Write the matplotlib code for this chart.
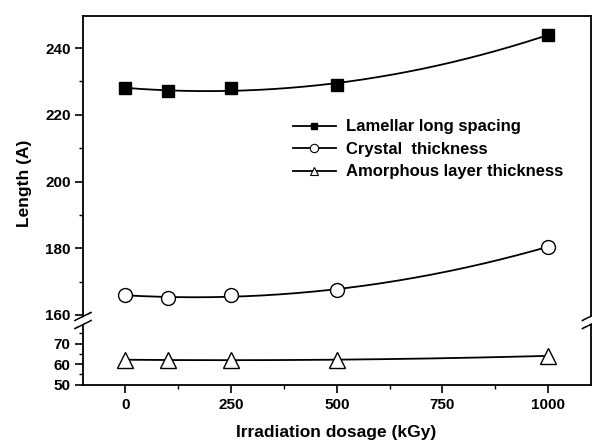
import numpy as np
import matplotlib
matplotlib.use('Agg')
import matplotlib.pyplot as plt
from matplotlib.ticker import MultipleLocator, FixedLocator
from matplotlib.lines import Line2D

plt.rcParams['font.family'] = ['Liberation Sans', 'DejaVu Sans']
plt.rcParams['font.weight'] = 'bold'

dose = [0, 100, 250, 500, 1000]
lamellar = [228, 227, 228, 229, 244]
crystal = [166, 165, 166, 167.5, 180.5]
amorphous = [62, 62, 62, 62, 64]

labels = ['Lamellar long spacing', 'Crystal  thickness', 'Amorphous layer thickness']


def fit_curve(x, y):
	# smooth trend through the points (2nd order fit)
	c = np.polyfit(x, y, 2)
	xs = np.linspace(min(x), max(x), 200)
	return xs, np.polyval(c, xs)


fig = plt.figure(figsize=(5.92, 4.44), dpi=100)
W, H = 592.0, 444.0
x0, x1 = 83 / W, 590.5 / W
ybrk = 322.0
ax1 = fig.add_axes([x0, 1 - ybrk / H, x1 - x0, (ybrk - 16) / H])
ax2 = fig.add_axes([x0, 1 - 384.5 / H, x1 - x0, (384.5 - ybrk) / H], sharex=ax1)

for ax in (ax1, ax2):
	for s in ax.spines.values():
		s.set_linewidth(1.3)
	ax.tick_params(direction='out', width=1.2, labelsize=11)
	ax.tick_params(which='major', length=5.5)
	ax.tick_params(which='minor', length=3, width=1.0)

ax1.spines['bottom'].set_visible(False)
ax2.spines['top'].set_visible(False)
ax1.tick_params(axis='x', which='both', bottom=False, labelbottom=False)

ax1.set_xlim(-100, 1100)
ax1.set_ylim(157.9, 249.6)
ax2.set_ylim(50, 80.5)
ax1.yaxis.set_major_locator(MultipleLocator(20))
ax1.yaxis.set_minor_locator(MultipleLocator(10))
ax2.yaxis.set_major_locator(FixedLocator([50, 60, 70]))
ax2.yaxis.set_minor_locator(FixedLocator([55, 65, 75]))
ax2.xaxis.set_major_locator(MultipleLocator(250))
ax2.xaxis.set_minor_locator(MultipleLocator(125))
ax2.tick_params(axis='x', pad=4)

for lab in ax1.get_yticklabels() + ax2.get_yticklabels() + ax2.get_xticklabels():
	lab.set_fontweight('bold')

# curves
xs, ys = fit_curve(dose, lamellar)
ax1.plot(xs, ys, color='black', lw=1.3)
ax1.plot(dose, lamellar, 's', color='black', ms=8, mfc='black')
xs, ys = fit_curve(dose, crystal)
ax1.plot(xs, ys, color='black', lw=1.3)
ax1.plot(dose, crystal, 'o', color='black', ms=10, mfc='white', mew=1.0)
xs, ys = fit_curve(dose, amorphous)
ax2.plot(xs, ys, color='black', lw=1.3)
ax2.plot(dose, amorphous, '^', color='black', ms=11, mfc='white', mew=1.0)

# legend
handles = [
	Line2D([], [], color='black', lw=1.3, marker='s', ms=5, mfc='black'),
	Line2D([], [], color='black', lw=1.3, marker='o', ms=6, mfc='white', mew=0.8),
	Line2D([], [], color='black', lw=1.3, marker='^', ms=6, mfc='white', mew=0.8),
]
leg = ax1.legend(handles, labels, loc='upper left', bbox_to_anchor=(0.40, 0.684),
	frameon=False, fontsize=12, handlelength=2.6, handletextpad=0.6,
	labelspacing=0.45, borderaxespad=0)
for t in leg.get_texts():
	t.set_fontweight('bold')

# break marks on the spines
def brk(xc):
	for yc in (316.5, 324.5):
		fig.add_artist(Line2D([(xc - 8) / W, (xc + 8) / W],
			[1 - (yc + 4) / H, 1 - (yc - 4) / H], color='black', lw=1.2))
	fig.add_artist(Line2D([(xc - 3) / W, (xc + 3) / W],
		[1 - (320.5 + 1.5) / H, 1 - (320.5 - 1.5) / H], color='white', lw=4))

brk(83)
brk(590.5)

fig.text(25 / W, 1 - 183 / H, 'Length (A)', rotation=90, ha='center', va='center',
	fontsize=12.5, fontweight='bold')
fig.text(336 / W, 1 - 432 / H, 'Irradiation dosage (kGy)', ha='center', va='center',
	fontsize=12.5, fontweight='bold')

fig.savefig('out.png', dpi=100)
